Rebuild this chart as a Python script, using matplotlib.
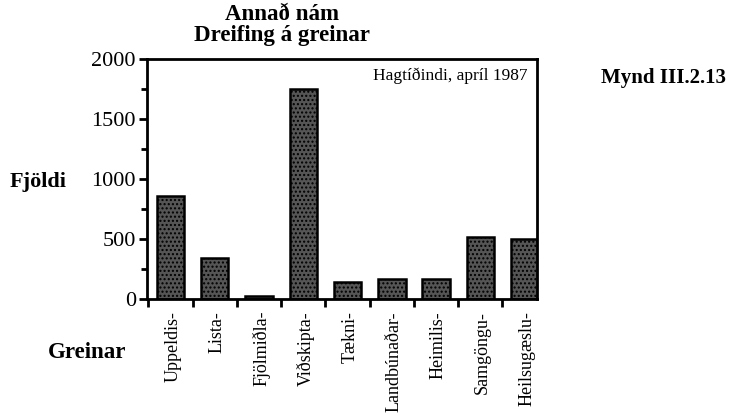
import matplotlib
matplotlib.use("Agg")
import matplotlib.pyplot as plt
from matplotlib.ticker import MultipleLocator, FixedLocator, NullFormatter

categories = ["Uppeldis-", "Lista-", "Fjölmiðla-", "Viðskipta-", "Tækni-",
              "Landbúnaðar-", "Heimilis-", "Samgöngu-", "Heilsugæslu-"]
values = [860, 340, 25, 1750, 140, 165, 165, 520, 500]
yticks = [0, 500, 1000, 1500, 2000]

plt.rcParams['font.family'] = ['Liberation Serif', 'DejaVu Serif']

fig = plt.figure(figsize=(7.3, 4.16), dpi=100)
ax = fig.add_axes([147/730, 1 - 299/416, (537-147)/730, (299-59)/416])

x = list(range(len(categories)))
ax.bar(x, values, width=0.62, color='#555555', edgecolor='black', linewidth=1.8,
       hatch='....', zorder=2)

ax.set_xlim(-0.53, 8.28)
ax.set_ylim(0, 2000)
ax.set_yticks(yticks)
ax.set_yticklabels([str(v) for v in yticks], fontsize=16)
ax.yaxis.set_minor_locator(MultipleLocator(250))
ax.xaxis.set_major_locator(FixedLocator([i - 0.5 for i in range(len(categories))]))
ax.xaxis.set_major_formatter(NullFormatter())
ax.tick_params(axis='y', which='major', direction='out', length=6, width=2, pad=2)
ax.tick_params(axis='y', which='minor', direction='out', length=4, width=2)
ax.tick_params(axis='x', which='major', direction='out', length=6, width=2)
for s in ax.spines.values():
    s.set_linewidth(2)

for i, c in enumerate(categories):
    ax.text(i + 0.05, -0.05, c, transform=ax.get_xaxis_transform(), rotation=90,
            ha='center', va='top', fontsize=13)

ax.text(0.975, 0.965, "Hagtíðindi, apríl 1987", transform=ax.transAxes,
        ha='right', va='top', fontsize=12.5)

fig.text(282/730, 1 - 15/416, "Annað nám", ha='center', va='center',
         fontsize=16.5, fontweight='bold')
fig.text(282/730, 1 - 36/416, "Dreifing á greinar", ha='center', va='center',
         fontsize=16.5, fontweight='bold')
fig.text(726/730, 1 - 78/416, "Mynd III.2.13", ha='right', va='center',
         fontsize=15, fontweight='bold')
fig.text(38/730, 1 - 182/416, "Fjöldi", ha='center', va='center',
         fontsize=16, fontweight='bold')
fig.text(87/730, 1 - 352/416, "Greinar", ha='center', va='center',
         fontsize=16.5, fontweight='bold')

fig.savefig("out.png", dpi=100)
